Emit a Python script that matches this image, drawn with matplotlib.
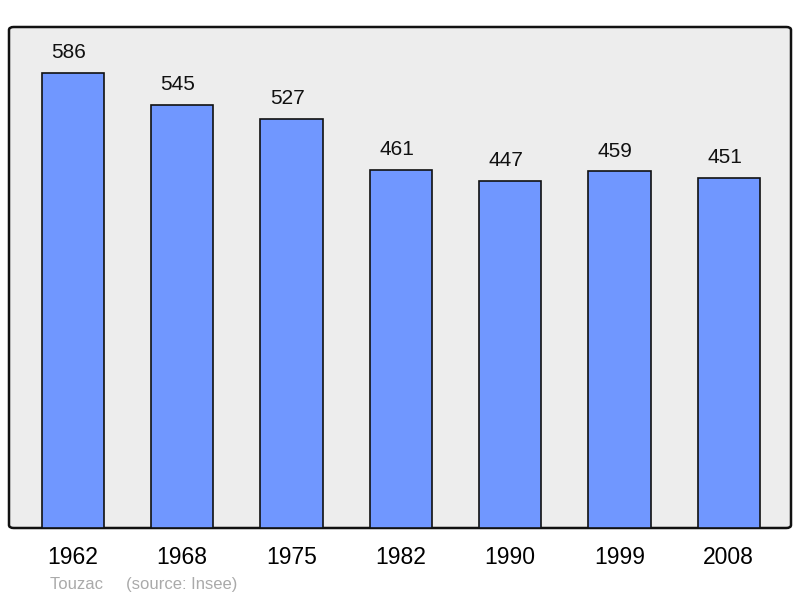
import matplotlib.pyplot as plt
from matplotlib.patches import FancyBboxPatch

plt.rcParams["font.family"] = ["Liberation Sans", "DejaVu Sans"]

# Population data
years = ["1962", "1968", "1975", "1982", "1990", "1999", "2008"]
population = [586, 545, 527, 461, 447, 459, 451]

fig = plt.figure(figsize=(8, 5.98), dpi=100)
ax = fig.add_axes([9 / 800, 70 / 598, 782 / 800, 501 / 598])
ax.set_facecolor("none")

# rounded background frame
bg = FancyBboxPatch((0, 0), 1, 1, boxstyle="round,pad=0,rounding_size=0.006",
                    transform=ax.transAxes, facecolor="#ededed",
                    edgecolor="#111111", linewidth=1.8, zorder=0, clip_on=False)
ax.add_patch(bg)

x = list(range(len(years)))
bars = ax.bar(x, population, width=0.57, color="#7097ff",
              edgecolor="#111111", linewidth=1.2, zorder=2)

for xi, v in zip(x, population):
    ax.annotate(str(v), (xi, v), xytext=(-3, 10.5), textcoords="offset points",
                ha="center", va="baseline", fontsize=15, color="#111111")

ax.set_xlim(-0.585, 6.57)
ax.set_ylim(0, 645)
ax.set_xticks(x)
ax.set_xticklabels(years, fontsize=16.5)
ax.tick_params(axis="x", length=0, pad=13)
ax.set_yticks([])
for s in ax.spines.values():
    s.set_visible(False)

fig.text(50 / 800, 1 - 584 / 598, "Touzac     (source: Insee)", fontsize=12,
         color="#aaaaaa", ha="left", va="center")

fig.savefig("out.png", dpi=100)
